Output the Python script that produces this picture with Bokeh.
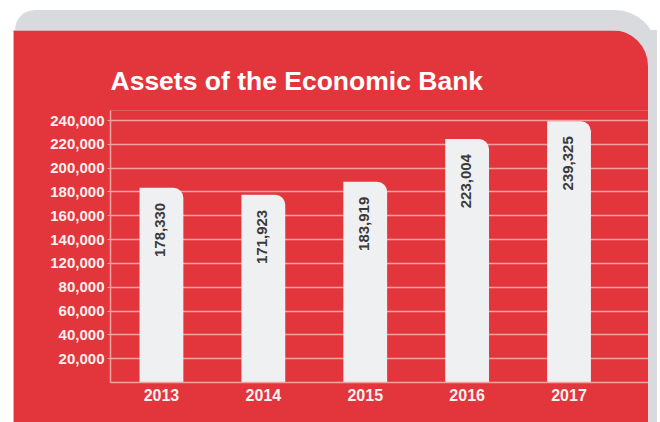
import math
from bokeh.plotting import figure
from bokeh.layouts import column
from bokeh.models import Div, FixedTicker, ColumnDataSource, Range1d
from bokeh.core.properties import value
from bokeh.embed import file_html
from bokeh.resources import INLINE

# ---- data ----
years = ["2013", "2014", "2015", "2016", "2017"]
assets = [178330, 171923, 183919, 223004, 239325]
asset_labels = ["178,330", "171,923", "183,919", "223,004", "239,325"]
y_tick_labels = ["20,000", "40,000", "60,000", "80,000", "120,000", "140,000",
                 "160,000", "180,000", "200,000", "220,000", "240,000"]
y_top = 240000
title_text = "Assets of the Economic Bank"

# ---- layout ----
TOTAL_W, TOTAL_H = 660, 422
TOP_H = 30
PANEL_L, PANEL_R = 13, 648
W, H = PANEL_R - PANEL_L, TOTAL_H - TOP_H
FL, FR, FT, FB = 97, 0, 80, 40
frame_h = H - FT - FB
top_grid_px = 262

RED = "#e2353c"
GRAY = "#d9dadd"
GRID = "#f5a2a4"
FONT = value("Liberation Sans")

x_idx = list(range(len(years)))
n = len(y_tick_labels)
y_ticks = [round(y_top * (i + 1) / n) for i in range(n)]

src = ColumnDataSource(dict(x=x_idx, top=assets, label=asset_labels))

# decorative card rim (gray band above the red panel)
card_top = Div(
    text=(
        f'<div style="position:relative;width:{TOTAL_W}px;height:{TOP_H}px;'
        f'background:#ffffff;overflow:hidden;">'
        f'<div style="position:absolute;left:15px;top:10px;width:642px;'
        f'height:{TOP_H + 20}px;background:{GRAY};border-radius:20px 42px 0 0;"></div>'
        f'</div>'
    ),
    width=TOTAL_W, height=TOP_H, margin=0,
)

p = figure(width=W, height=H, output_backend="svg", toolbar_location=None,
           x_range=Range1d(-0.5, 4.78),
           y_range=Range1d(0, y_top * frame_h / top_grid_px),
           min_border_left=FL, min_border_right=FR,
           min_border_top=FT, min_border_bottom=FB,
           margin=(0, TOTAL_W - PANEL_R, 0, PANEL_L),
           styles={"border-top-right-radius": "36px", "overflow": "hidden"})
p.background_fill_color = RED
p.border_fill_color = RED
p.outline_line_color = None

# title
p.title.text = title_text
p.title.text_color = "white"
p.title.text_font = "Liberation Sans"
p.title.text_font_style = "bold"
p.title.text_font_size = "26.5px"
p.title.align = "left"
p.title.standoff = 30

# grid
p.xgrid.visible = False
p.ygrid.ticker = FixedTicker(ticks=y_ticks)
p.ygrid.grid_line_color = GRID
p.ygrid.grid_line_width = 1.5

# y axis
p.yaxis.ticker = FixedTicker(ticks=y_ticks)
p.yaxis.major_label_overrides = dict(zip(y_ticks, y_tick_labels))
p.yaxis.axis_line_color = GRID
p.yaxis.axis_line_width = 1.5
p.yaxis.major_tick_line_color = GRID
p.yaxis.major_tick_out = 3
p.yaxis.major_tick_in = 0
p.yaxis.minor_tick_line_color = None
p.yaxis.major_label_standoff = 3
p.yaxis.major_label_text_color = "#fdf0f0"
p.yaxis.major_label_text_font = "Liberation Sans"
p.yaxis.major_label_text_font_style = "bold"
p.yaxis.major_label_text_font_size = "15px"

# x axis
p.xaxis.ticker = FixedTicker(ticks=x_idx)
p.xaxis.major_label_overrides = dict(zip(x_idx, years))
p.xaxis.axis_line_color = GRID
p.xaxis.axis_line_width = 1.5
p.xaxis.major_tick_line_color = None
p.xaxis.minor_tick_line_color = None
p.xaxis.major_tick_out = 0
p.xaxis.major_label_standoff = 6
p.xaxis.major_label_text_color = "#fdf0f0"
p.xaxis.major_label_text_font = "Liberation Sans"
p.xaxis.major_label_text_font_style = "bold"
p.xaxis.major_label_text_font_size = "16px"

# bars
p.vbar(x="x", top="top", bottom=0, width=0.43, source=src,
       fill_color="#eff0f2", line_color=None, border_radius=(0, 10, 0, 0))

# value labels
p.text(x="x", y="top", text="label", source=src, angle=math.pi / 2,
       text_align="right", text_baseline="middle", y_offset=15, x_offset=-1,
       text_font=FONT, text_font_style="bold", text_font_size="15px",
       text_color="#3a3a3a")

bg = (f"linear-gradient(90deg, #ffffff 0px, #ffffff {PANEL_L}px, {GRAY} {PANEL_L}px, "
      f"{GRAY} 657px, #ffffff 657px)")
layout = column(card_top, p, spacing=0, styles={"background": bg})

open("out.html", "w").write(file_html(layout, INLINE))
